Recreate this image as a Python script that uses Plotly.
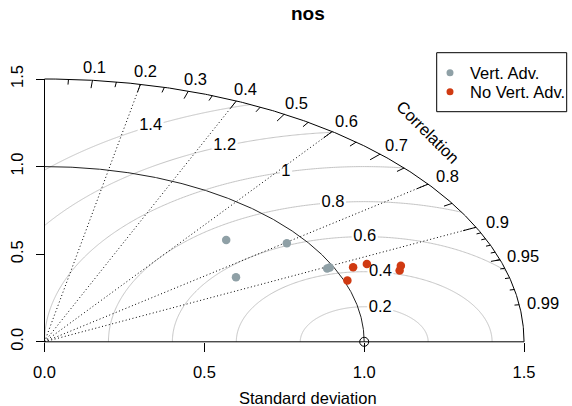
import numpy as np
import plotly.graph_objects as go

# ---- data: standard deviation and correlation of each model run ----
series_names = ["Vert. Adv.", "No Vert. Adv."]
sd_vert = [0.813, 0.944, 0.703, 0.978, 0.988]
cor_vert = [0.699, 0.803, 0.852, 0.904, 0.903]
sd_novert = [1.055, 1.102, 1.010, 1.196, 1.183]
cor_novert = [0.915, 0.915, 0.938, 0.932, 0.939]
series_colors = ["#8FA0A6", "#D03A12"]

ref_sd = 1.0
max_sd = 1.5
rms_levels = [0.2, 0.4, 0.6, 0.8, 1.0, 1.2, 1.4]
rms_labels = ["0.2", "0.4", "0.6", "0.8", "1", "1.2", "1.4"]
corr_lines = [0.2, 0.4, 0.6, 0.8, 0.9]
corr_big = [0.1, 0.2, 0.3, 0.4, 0.5, 0.6, 0.7, 0.8, 0.9]
corr_med = [0.05, 0.15, 0.25, 0.35, 0.45, 0.55, 0.65, 0.75, 0.85, 0.95]
corr_small = [0.91, 0.92, 0.93, 0.94, 0.95, 0.96, 0.97, 0.98, 0.99]
corr_labels = [0.1, 0.2, 0.3, 0.4, 0.5, 0.6, 0.7, 0.8, 0.9, 0.95, 0.99]
sd_ticks = [0.0, 0.5, 1.0, 1.5]
sd_ticktext = ["0.0", "0.5", "1.0", "1.5"]

FONT = "Liberation Sans, Arial, Helvetica, sans-serif"
FS = 16.5
W, H = 572, 406
X0, SX = 44.5, 319.7   # pixel of sd=0 and pixels per unit (x)
Y0, SY = 341.8, 175.2  # pixel of sd=0 and pixels per unit (y)

fig = go.Figure()
shapes = []
annotations = []

def polar_xy(sd, cor):
    sd = np.asarray(sd, float)
    cor = np.asarray(cor, float)
    return sd * cor, sd * np.sqrt(1 - cor ** 2)

def text_ann(x, y, text, ref="data", size=FS, **kw):
    d = dict(x=x, y=y, text=text, showarrow=False, xanchor="center", yanchor="middle",
             font=dict(family=FONT, size=size, color="black"))
    if ref == "data":
        d.update(xref="x", yref="y")
    else:
        d.update(xref="paper", yref="paper")
    d.update(kw)
    return d

# centred RMS difference contours around the reference point (drawn under everything)
for g in rms_levels:
    c_start = (max_sd ** 2 - ref_sd ** 2 - g ** 2) / (2 * g * ref_sd)
    t0 = 0.0 if c_start >= 1 else np.arccos(c_start)
    c_end = -ref_sd / g
    t1 = np.pi if c_end <= -1 else np.arccos(c_end)
    t = np.linspace(t0, t1, 300)
    xs = ref_sd + g * np.cos(t)
    ys = g * np.sin(t)
    path = "M " + " L ".join(f"{a:.5f},{b:.5f}" for a, b in zip(xs, ys))
    shapes.append(dict(type="path", path=path, xref="x", yref="y", layer="below",
                       line=dict(color="#C4C4C4", width=1)))

# white boxes behind the RMS labels, then the labels themselves
label_angles = np.radians(np.linspace(75.5, 118.5, len(rms_levels)))
lab_x = [ref_sd + g * np.cos(a) for g, a in zip(rms_levels, label_angles)]
lab_y = [g * np.sin(a) for g, a in zip(rms_levels, label_angles)]
for x, y, lab in zip(lab_x, lab_y, rms_labels):
    half_w = 0.5 * sum(4.6 if ch == "." else 9.2 for ch in lab) + 1.5
    shapes.append(dict(type="rect", xref="x", yref="y", layer="between",
                       xsizemode="pixel", ysizemode="pixel", xanchor=x, yanchor=y,
                       x0=-half_w, x1=half_w, y0=-9, y1=9,
                       fillcolor="white", line=dict(width=0)))
fig.add_trace(go.Scatter(x=lab_x, y=lab_y, text=rms_labels, mode="text",
                         textposition="middle center",
                         textfont=dict(family=FONT, size=FS, color="black"),
                         hoverinfo="skip", showlegend=False))

# dotted correlation rays
rx, ry = [], []
for c in corr_lines:
    ex, ey = polar_xy(max_sd, c)
    rx += [0, float(ex), None]
    ry += [0, float(ey), None]
fig.add_trace(go.Scatter(x=rx, y=ry, mode="lines",
                         line=dict(color="black", width=1, dash="1px,2.5px"),
                         hoverinfo="skip", showlegend=False))

# outer arc and reference standard-deviation arc
t = np.linspace(0, np.pi / 2, 400)
fig.add_trace(go.Scatter(x=max_sd * np.cos(t), y=max_sd * np.sin(t), mode="lines",
                         line=dict(color="black", width=1), hoverinfo="skip", showlegend=False))
fig.add_trace(go.Scatter(x=ref_sd * np.cos(t), y=ref_sd * np.sin(t), mode="lines",
                         line=dict(color="#222222", width=1), hoverinfo="skip", showlegend=False))

# tick marks on the correlation arc
tx, ty = [], []
for vals, frac in ((corr_big, 0.97), (corr_med, 0.98), (corr_small, 0.99)):
    for c in vals:
        ax_, ay_ = polar_xy(max_sd, c)
        bx_, by_ = polar_xy(max_sd * frac, c)
        tx += [float(ax_), float(bx_), None]
        ty += [float(ay_), float(by_), None]
fig.add_trace(go.Scatter(x=tx, y=ty, mode="lines", line=dict(color="black", width=1),
                         hoverinfo="skip", showlegend=False))

# axis lines
fig.add_trace(go.Scatter(x=[0, max_sd, None, 0, 0], y=[0, 0, None, 0, max_sd], mode="lines",
                         line=dict(color="black", width=1), hoverinfo="skip", showlegend=False))

# reference point
fig.add_trace(go.Scatter(x=[ref_sd], y=[0], mode="markers",
                         marker=dict(symbol="circle-open", size=9, color="black",
                                     line=dict(width=1, color="black")),
                         hoverinfo="skip", showlegend=False))

# model points
for name, sds, cors, col in ((series_names[0], sd_vert, cor_vert, series_colors[0]),
                             (series_names[1], sd_novert, cor_novert, series_colors[1])):
    px_, py_ = polar_xy(sds, cors)
    fig.add_trace(go.Scatter(x=px_, y=py_, mode="markers", name=name,
                             marker=dict(size=8.5, color=col, line=dict(width=0)),
                             showlegend=False))

# correlation labels
for c in corr_labels:
    lx, ly = polar_xy(max_sd * 1.05, c)
    annotations.append(text_ann(float(lx), float(ly), f"{c:g}"))
annotations.append(text_ann(max_sd * 0.8, max_sd * 0.8, "Correlation", textangle=45))

# title and axis title
annotations.append(text_ann(308 / W, 1 - 14 / H, "<b>nos</b>", ref="paper", size=19))
annotations.append(text_ann(308 / W, 1 - 398 / H, "Standard deviation", ref="paper"))

# legend box
lx0, lx1, ly0, ly1 = 436.7, 566.7, 52.7, 111.7
shapes.append(dict(type="rect", xref="paper", yref="paper", x0=lx0 / W, x1=lx1 / W,
                   y0=1 - ly1 / H, y1=1 - ly0 / H, line=dict(color="black", width=1),
                   fillcolor="white", layer="above"))
for i, (name, col) in enumerate(zip(series_names, series_colors)):
    cy = 72.7 + 19 * i
    shapes.append(dict(type="circle", xref="paper", yref="paper", xsizemode="pixel",
                       ysizemode="pixel", xanchor=450 / W, yanchor=1 - cy / H,
                       x0=-3.5, x1=3.5, y0=-3.5, y1=3.5, fillcolor=col,
                       line=dict(width=0), layer="above"))
    annotations.append(text_ann(468 / W, 1 - cy / H, name, ref="paper", xanchor="left"))

fig.update_layout(
    width=W, height=H, margin=dict(l=0, r=0, t=0, b=0, autoexpand=False),
    paper_bgcolor="white", plot_bgcolor="white",
    annotations=annotations, shapes=shapes, showlegend=False,
    xaxis=dict(range=[-X0 / SX, (W - X0) / SX], showgrid=False, zeroline=False, showline=False,
               tickvals=sd_ticks, ticktext=sd_ticktext, ticks="outside", ticklen=9,
               tickcolor="black", tickwidth=1, anchor="free", position=(H - Y0) / H,
               ticklabelstandoff=6,
               tickfont=dict(family=FONT, size=FS, color="black")),
    yaxis=dict(range=[-(H - Y0) / SY, Y0 / SY], showgrid=False, zeroline=False, showline=False,
               tickvals=sd_ticks, ticktext=sd_ticktext, ticks="outside", ticklen=9,
               tickcolor="black", tickwidth=1, anchor="free", position=X0 / W, tickangle=-90,
               ticklabelstandoff=6,
               tickfont=dict(family=FONT, size=FS, color="black")),
)

fig.write_html("out.html")
